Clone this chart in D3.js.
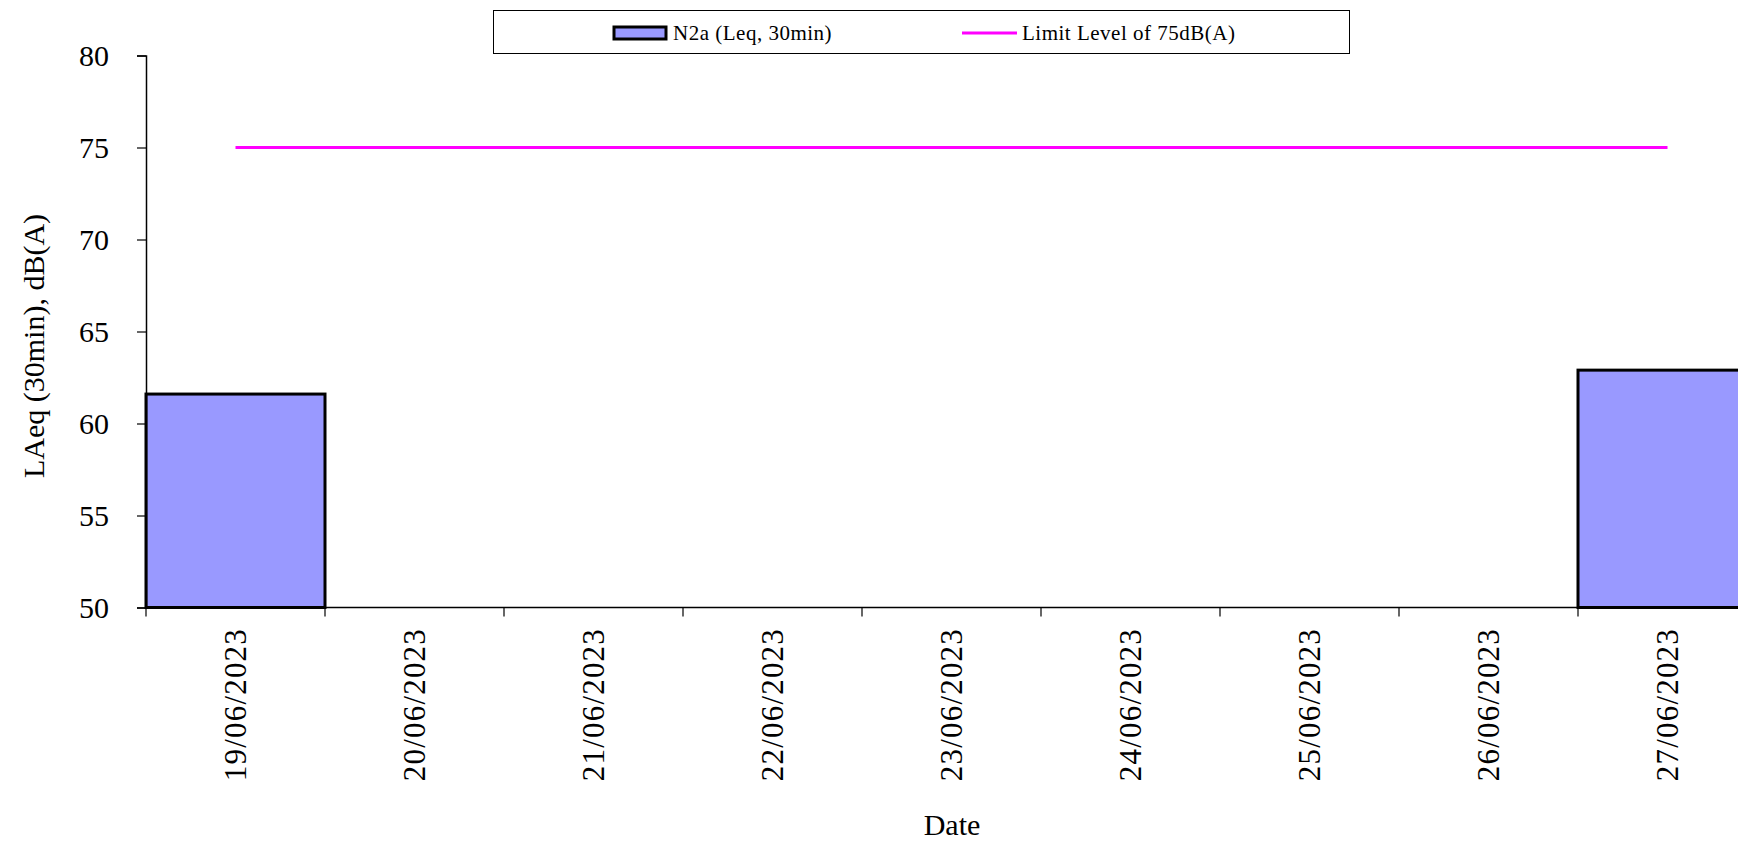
<!DOCTYPE html>
<html>
<head>
<meta charset="utf-8">
<script src="https://cdn.jsdelivr.net/npm/d3@7"></script>
<style>
    body { margin: 0; background: #fff; }
    svg { display: block; overflow: hidden; }
    text { font-family: "Liberation Serif", "Times New Roman", serif; fill: #000; }
</style>
</head>
<body>
<div id="canvas"></div>
<script>
const dates = ["19/06/2023", "20/06/2023", "21/06/2023", "22/06/2023", "23/06/2023",
    "24/06/2023", "25/06/2023", "26/06/2023", "27/06/2023"];
const levels = [61.6, null, null, null, null, null, null, null, 62.9];
const limits = [75, 75, 75, 75, 75, 75, 75, 75, 75];
const yTicks = [50, 55, 60, 65, 70, 75, 80];

const width = 1738;
const height = 842;
// the plot runs past the right edge of the picture, as in the original
const plotLeft = 146, plotTop = 55.5, plotBottom = 607.5, band = 179;

const svg = d3.select("#canvas").append("svg")
    .attr("width", width)
    .attr("height", height);

const x = d3.scaleBand()
    .domain(dates)
    .range([plotLeft, plotLeft + band * dates.length])
    .padding(0);

const y = d3.scaleLinear()
    .domain([50, 80])
    .range([plotBottom, plotTop]);

// bars
svg.append("g").selectAll("rect")
    .data(dates.map((d, i) => ({ date: d, v: levels[i] })).filter(d => d.v != null))
    .enter().append("rect")
    .attr("x", d => x(d.date))
    .attr("y", d => y(d.v))
    .attr("width", x.bandwidth())
    .attr("height", d => y(50) - y(d.v))
    .style("fill", "#9999ff")
    .style("stroke", "#000")
    .style("stroke-width", 3);

// limit line
const line = d3.line()
    .x(d => x(d.date) + x.bandwidth() / 2)
    .y(d => y(d.v));

svg.append("path")
    .datum(dates.map((d, i) => ({ date: d, v: limits[i] })))
    .attr("d", line)
    .style("fill", "none")
    .style("stroke", "#ff00ff")
    .style("stroke-width", 3);

// y axis
const yAxis = svg.append("g")
    .attr("transform", `translate(${plotLeft},0)`)
    .attr("font-family", null)
    .call(d3.axisLeft(y).tickValues(yTicks).tickSize(9).tickPadding(28));
yAxis.select(".domain").attr("stroke-width", 1.5);
yAxis.selectAll(".tick line").attr("stroke-width", 1.2);
yAxis.selectAll(".tick text")
    .style("font-family", "'Liberation Serif', serif")
    .style("font-size", "30px");

// x axis line with ticks at category boundaries
svg.append("line")
    .attr("x1", plotLeft).attr("x2", width)
    .attr("y1", plotBottom).attr("y2", plotBottom)
    .style("stroke", "#000")
    .style("stroke-width", 1.5);

svg.append("g").selectAll("line")
    .data(dates)
    .enter().append("line")
    .attr("x1", d => x(d)).attr("x2", d => x(d))
    .attr("y1", plotBottom).attr("y2", plotBottom + 9)
    .style("stroke", "#000")
    .style("stroke-width", 1.2);

svg.append("g").selectAll("text")
    .data(dates)
    .enter().append("text")
    .attr("transform", d => `translate(${x(d) + x.bandwidth() / 2},628) rotate(-90)`)
    .attr("text-anchor", "end")
    .attr("dy", "0.35em")
    .style("font-size", "31px")
    .style("letter-spacing", "1.2px")
    .text(d => d);

// axis titles
svg.append("text")
    .attr("transform", "translate(33,346) rotate(-90)")
    .attr("text-anchor", "middle")
    .attr("dy", "0.35em")
    .style("font-size", "30px")
    .text("LAeq (30min), dB(A)");

svg.append("text")
    .attr("x", 952)
    .attr("y", 835)
    .attr("text-anchor", "middle")
    .style("font-size", "30px")
    .text("Date");

// legend
const lg = svg.append("g");
lg.append("rect")
    .attr("x", 493.5).attr("y", 10.5)
    .attr("width", 856).attr("height", 43)
    .style("fill", "#fff")
    .style("stroke", "#000")
    .style("stroke-width", 1);

lg.append("rect")
    .attr("x", 614).attr("y", 27)
    .attr("width", 52).attr("height", 12)
    .style("fill", "#9999ff")
    .style("stroke", "#000")
    .style("stroke-width", 3);

lg.append("text")
    .attr("x", 673).attr("y", 33)
    .attr("dy", "0.35em")
    .style("font-size", "21px")
    .style("letter-spacing", "0.5px")
    .text("N2a (Leq, 30min)");

lg.append("line")
    .attr("x1", 962).attr("x2", 1017)
    .attr("y1", 33).attr("y2", 33)
    .style("stroke", "#ff00ff")
    .style("stroke-width", 3);

lg.append("text")
    .attr("x", 1022).attr("y", 33)
    .attr("dy", "0.35em")
    .style("font-size", "21px")
    .style("letter-spacing", "0.5px")
    .text("Limit Level of 75dB(A)");
</script>
</body>
</html>
